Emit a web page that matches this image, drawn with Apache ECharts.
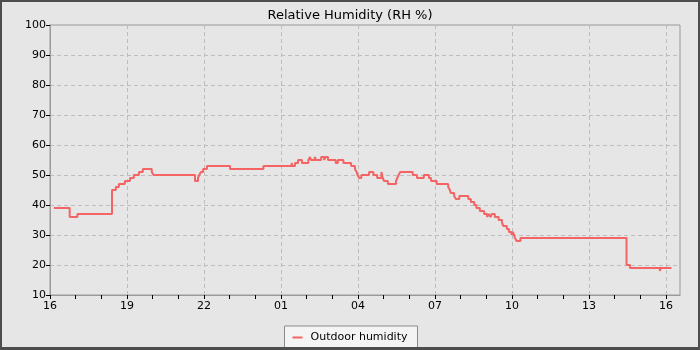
<!DOCTYPE html>
<html>
<head>
<meta charset="utf-8">
<script src="https://cdn.jsdelivr.net/npm/echarts@6/dist/echarts.min.js"></script>
<style>
  html, body { margin: 0; padding: 0; background: #4d4d4d; width: 700px; height: 350px; overflow: hidden; }
  #chart { position: absolute; left: 2px; top: 2px; width: 696px; height: 345px; background: #e6e6e6; }
</style>
</head>
<body>
<div id="chart"></div>
<script>
// Time of each change (HH:MM, starting 16:00 day 1) and the humidity that holds from then on
const times = [
  '16:09','16:46','17:04','18:25','18:34','18:41','18:55','19:07','19:16','19:28','19:37','19:58','20:02',
  '21:39','21:46','21:49','21:53','21:58','22:07','23:01','00:19','01:25','01:27','01:33','01:40','01:49',
  '02:04','02:08','02:10','02:19','02:22','02:34','02:41','02:44','02:50','03:08','03:13','03:26','03:44',
  '03:53','03:57','03:59','04:03','04:08','04:26','04:36','04:45','04:55','04:58','05:01','05:10','05:29',
  '05:32','05:35','05:39','06:08','06:18','06:34','06:46','06:51','07:04','07:31','07:35','07:37','07:45',
  '07:49','07:57','08:18','08:24','08:32','08:37','08:45','08:55','09:02','09:06','09:10','09:13','09:20',
  '09:29','09:37','09:40','09:48','09:53','09:59','10:02','10:05','10:07','10:11','10:20','14:28','14:36',
  '15:46','15:48','16:13'
];
const humidity = [
  39,36,37,45,46,47,48,49,50,51,52,51,50,
  48,49,50,51,52,53,52,53,54,53,54,55,54,
  55,56,55,56,55,56,55,56,55,54,55,54,53,
  52,51,50,49,50,51,50,49,51,49,48,47,48,
  49,50,51,50,49,50,49,48,47,46,45,44,43,
  42,43,42,41,40,39,38,37,36,37,36,37,36,
  35,34,33,32,31,30,31,30,29,28,29,20,19,
  18,19,19
];
const xTickHours = [0, 3, 6, 9, 12, 15, 18, 21, 24];
const xTickLabels = ['16','19','22','01','04','07','10','13','16'];
const hourTicks = [0,1,2,3,4,5,6,7,8,9,10,11,12,13,14,15,16,17,18,19,20,21,22,23,24];
const xMaxHours = 24.55;
const seriesName = 'Outdoor humidity';
const titleText = 'Relative Humidity (RH %)';

// convert HH:MM to hours elapsed since 16:00 of the first day
function toElapsed(list) {
  let prev = -1;
  return list.map(t => {
    const [h, m] = t.split(':').map(Number);
    let abs = h * 60 + m;
    while (abs < prev) abs += 1440;
    prev = abs;
    return (abs - 960) / 60;
  });
}
const xs = toElapsed(times);
const data = xs.map((x, i) => [x, humidity[i]]);

const chart = echarts.init(document.getElementById('chart'), null, { renderer: 'canvas' });
const axisColor = '#9a9a9a';
const font = 'DejaVu Sans';
chart.setOption({
  animation: false,
  backgroundColor: '#e6e6e6',
  textStyle: { fontFamily: font },
  title: {
    text: titleText, left: 'center', top: 2,
    textStyle: { fontFamily: font, fontSize: 13, fontWeight: 'normal', color: '#000' }
  },
  legend: {
    data: [seriesName],
    left: 'center', top: 324,
    backgroundColor: '#f4f4f4', borderColor: '#8a8a8a', borderWidth: 1, borderRadius: 0,
    padding: [6, 10, 8, 8],
    icon: 'rect', itemWidth: 10, itemHeight: 2, itemGap: 10,
    textStyle: { fontFamily: font, fontSize: 11, color: '#000', padding: [0, 0, 0, 3] }
  },
  grid: {
    left: 48, right: 18, top: 23, bottom: 52,
    show: true, borderColor: axisColor, borderWidth: 1, backgroundColor: 'transparent'
  },
  xAxis: [{
    type: 'value', min: 0, max: xMaxHours, position: 'bottom',
    axisLine: { show: true, onZero: false, lineStyle: { color: axisColor } },
    axisTick: { show: true, length: 4, customValues: xTickHours, lineStyle: { color: '#000' } },
    axisLabel: {
      customValues: xTickHours, margin: 6, fontSize: 11, color: '#000', fontFamily: font,
      formatter: v => xTickLabels[Math.round(v / 3)]
    },
    splitLine: { show: true, lineStyle: { color: '#bdbdbd', type: [4, 3] } }
  }, {
    type: 'value', min: 0, max: xMaxHours, position: 'bottom', offset: 0,
    axisLine: { show: false },
    axisTick: { show: true, length: 4, customValues: hourTicks, lineStyle: { color: '#000' } },
    axisLabel: { show: false },
    splitLine: { show: false }
  }],
  yAxis: {
    type: 'value', min: 10, max: 100, interval: 10,
    axisLine: { show: true, lineStyle: { color: axisColor } },
    axisTick: { show: true, length: 4, lineStyle: { color: '#000' } },
    axisLabel: { margin: 4, fontSize: 11, color: '#000', fontFamily: font },
    splitLine: { show: true, lineStyle: { color: '#bdbdbd', type: [4, 3] } }
  },
  series: [{
    name: seriesName, type: 'line', step: 'end', data: data,
    showSymbol: false, symbol: 'none',
    lineStyle: { color: '#f46464', width: 2 },
    itemStyle: { color: '#f46464' }
  }]
});
</script>
</body>
</html>
